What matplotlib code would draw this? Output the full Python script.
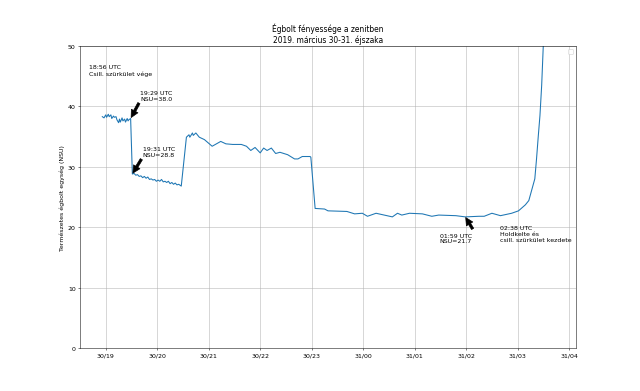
import matplotlib
matplotlib.use("Agg")
import matplotlib.pyplot as plt
import matplotlib.dates as mdates
import pandas as pd

times = [
    "18:56", "18:58", "19:00", "19:01", "19:03", "19:04", "19:06", "19:07", "19:09", "19:10",
    "19:12", "19:13", "19:15", "19:16", "19:17", "19:19", "19:20", "19:22", "19:23", "19:25",
    "19:26", "19:27", "19:29", "19:31", "19:33", "19:35", "19:37", "19:39", "19:41", "19:43",
    "19:45", "19:47", "19:49", "19:51", "19:53", "19:55", "19:57", "19:59", "20:01", "20:03",
    "20:05", "20:07", "20:09", "20:11", "20:13", "20:15", "20:17", "20:19", "20:21", "20:23",
    "20:25", "20:28", "20:34", "20:37", "20:38", "20:41", "20:42", "20:45", "20:49", "20:55",
    "21:04", "21:14", "21:20", "21:28", "21:38", "21:44", "21:49", "21:54", "22:00", "22:04",
    "22:08", "22:13", "22:18", "22:23", "22:32", "22:40", "22:44", "22:49", "22:58", "22:59",
    "23:04", "23:15", "23:19", "23:41", "23:50", "23:59", "00:05", "00:15", "00:34", "00:40",
    "00:45", "00:54", "01:09", "01:20", "01:28", "01:48", "01:59", "02:15", "02:21", "02:30",
    "02:40", "02:53", "03:01", "03:09", "03:13", "03:20", "03:22", "03:24", "03:26", "03:28",
    "03:30", "03:35", "03:41",
]
nsu = [
    38.3, 38.1, 38.6, 38.2, 38.7, 38.3, 38.6, 38.0, 38.4, 38.2,
    38.3, 37.8, 37.3, 37.9, 37.4, 38.1, 37.6, 37.9, 37.4, 38.0,
    37.6, 37.8, 38.0, 28.8, 28.9, 28.6, 28.7, 28.4, 28.5, 28.2,
    28.4, 28.1, 28.3, 27.9, 28.0, 27.8, 27.9, 27.6, 27.8, 27.6,
    27.9, 27.5, 27.6, 27.4, 27.6, 27.2, 27.4, 27.1, 27.3, 27.0,
    27.1, 26.8, 34.9, 35.3, 34.9, 35.6, 35.2, 35.6, 34.9, 34.5,
    33.4, 34.2, 33.8, 33.7, 33.7, 33.4, 32.7, 33.2, 32.3, 33.1,
    32.7, 33.1, 32.2, 32.4, 32.0, 31.3, 31.3, 31.7, 31.7, 31.6,
    23.1, 23.0, 22.7, 22.6, 22.2, 22.3, 21.8, 22.3, 21.7, 22.3,
    22.0, 22.3, 22.2, 21.8, 22.0, 21.9, 21.7, 21.8, 21.8, 22.3,
    21.9, 22.3, 22.7, 23.7, 24.4, 28.0, 31.3, 35.0, 38.5, 43.5,
    50.5, 68.0, 95.0,
]

title = "Égbolt fényessége a zenitben\n2019. március 30-31. éjszaka"
ylabel = "Természetes égbolt egység (NSU)"

def to_dt(hm):
    day = 31 if int(hm[:2]) < 12 else 30
    return pd.Timestamp(f"2019-03-{day} {hm}")

x = [to_dt(t) for t in times]

DPI = 45
fig = plt.figure(figsize=(640 / DPI, 392 / DPI), dpi=DPI)
ax = fig.add_subplot(111)
ax.plot(x, nsu, lw=1.7)
ax.set_ylim(0, 50)
ax.set_xlim(to_dt("18:30"), to_dt("04:08"))
ax.xaxis.set_major_locator(mdates.HourLocator())
ax.xaxis.set_major_formatter(mdates.DateFormatter("%d/%H"))
ax.grid(True)
ax.set_title(title)
ax.set_ylabel(ylabel)

arrow = dict(facecolor="black", shrink=0.05)
ax.text(to_dt("18:41"), 47.0, "18:56 UTC\nCsill. szürkület vége", va="top")
ax.annotate("19:29 UTC\nNSU=38.0", xy=(to_dt("19:29"), 38.0),
            xytext=(to_dt("19:40"), 40.9), va="bottom", arrowprops=arrow)
ax.annotate("19:31 UTC\nNSU=28.8", xy=(to_dt("19:31"), 28.8),
            xytext=(to_dt("19:43"), 31.6), va="bottom", arrowprops=arrow)
ax.annotate("", xy=(to_dt("01:59"), 21.7),
            xytext=(to_dt("02:08"), 19.6), arrowprops=arrow)
ax.text(to_dt("01:29"), 19.1, "01:59 UTC\nNSU=21.7", va="top")
ax.text(to_dt("02:39"), 20.3, "02:38 UTC\nHoldkelte és\ncsill. szürkület kezdete", va="top")
ax.legend(handles=[], loc="upper right")

fig.savefig("out.png", dpi=DPI)
